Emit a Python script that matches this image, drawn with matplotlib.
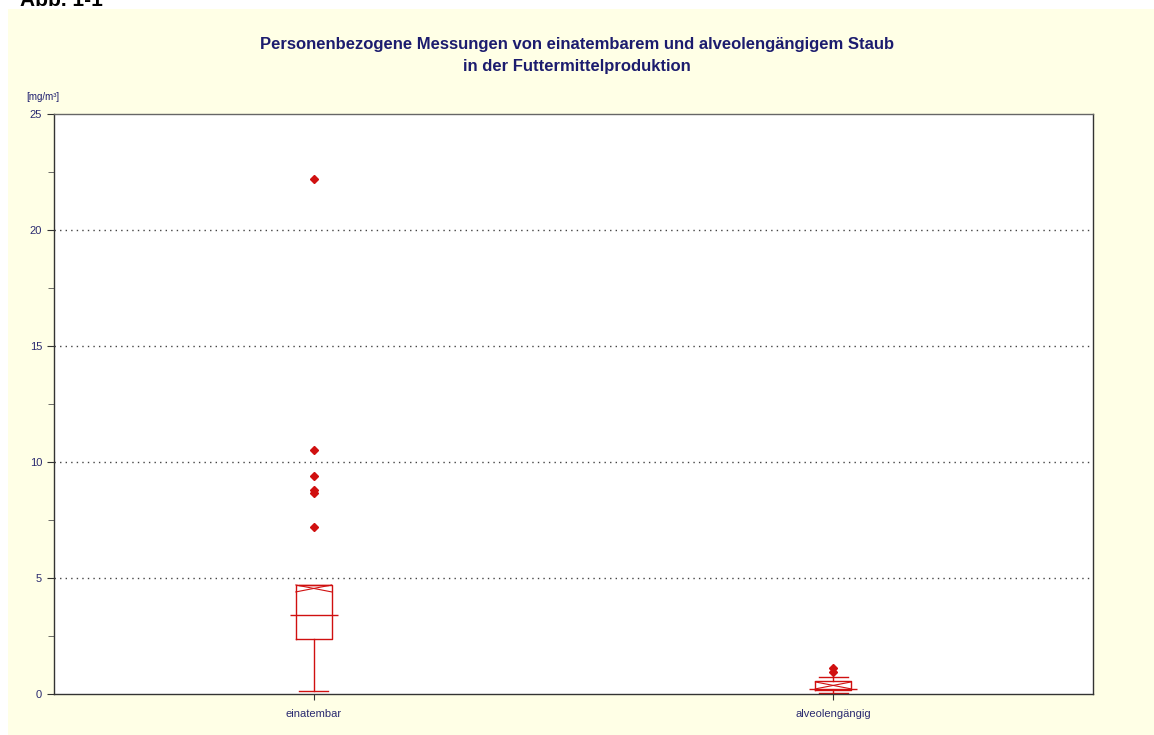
import numpy as np
import matplotlib
matplotlib.use('Agg')
import matplotlib.pyplot as plt
from matplotlib.patches import Rectangle

# werte aus dem bild geschaetzt
kategorien = ['einatembar', 'alveolengängig']
q1 = [2.38, 0.17]
median = [3.42, 0.20]
q3 = [4.71, 0.57]
whisker_lo = [0.13, 0.05]
whisker_hi = [4.71, 0.75]
mittel = [4.55, 0.37]
ausreisser = [[7.2, 8.65, 8.78, 9.4, 10.5, 22.2], [0.95, 1.1]]

navy = '#1c1c6e'
rot = '#d01010'

plt.rcParams['font.family'] = ['Liberation Sans', 'DejaVu Sans']

fig = plt.figure(figsize=(11.54, 7.35), dpi=100, facecolor='white')
# gelber hintergrund
fig.patches.append(Rectangle((8/1154, 0), 1 - 8/1154, 1 - 9/735, transform=fig.transFigure,
                             facecolor='#ffffe6', edgecolor='none', zorder=-10))
fig.text(20/1154, 1 - 6/735, 'Abb. 1-1', fontsize=15, fontweight='bold', color='black',
         va='baseline', ha='left')

ax = fig.add_axes([54/1154, 1 - 694/735, (1093-54)/1154, (694-114)/735])
ax.set_facecolor('white')

pos = np.arange(1, len(kategorien) + 1)
stats = []
for i in range(len(kategorien)):
    stats.append(dict(med=median[i], q1=q1[i], q3=q3[i], whislo=whisker_lo[i],
                      whishi=whisker_hi[i], fliers=ausreisser[i], label=kategorien[i]))

ax.bxp(stats, positions=pos, widths=0.069, capwidths=0.056,
       boxprops=dict(color=rot, linewidth=1),
       whiskerprops=dict(color=rot, linewidth=1),
       capprops=dict(color=rot, linewidth=1),
       medianprops=dict(linestyle='none'),
       flierprops=dict(marker='D', markerfacecolor=rot, markeredgecolor=rot, markersize=4.5))

# median breiter als box
ax.hlines(median, pos - 0.046, pos + 0.046, color=rot, linewidth=1)
# kreuz (mittelwert)
for p, m in zip(pos, mittel):
    ax.plot([p - 0.0345, p + 0.0345], [m + 0.15, m - 0.15], color=rot, linewidth=0.8)
    ax.plot([p - 0.0345, p + 0.0345], [m - 0.15, m + 0.15], color=rot, linewidth=0.8)

ax.set_xlim(0.5, 2.5)
ax.set_ylim(0, 25)
ax.set_yticks([0, 5, 10, 15, 20, 25])
ax.set_yticks([2.5, 7.5, 12.5, 17.5, 22.5], minor=True)
ax.set_xticks(pos)
ax.set_xticklabels(kategorien)
ax.tick_params(axis='both', colors='#333333', labelcolor='#2a2a70', labelsize=8, length=5, width=0.8)
ax.tick_params(axis='y', which='minor', length=4, colors='#555555')
ax.tick_params(axis='x', length=4, pad=7)

for y in [5, 10, 15, 20]:
    ax.axhline(y, color='#444444', linestyle=(0, (1, 3)), linewidth=1, zorder=0)

for s in ax.spines.values():
    s.set_color('#333333')
    s.set_linewidth(1)
ax.spines['top'].set_color('#666666')

fig.text(26/1154, 1 - 97/735, '[mg/m³]', fontsize=7, color=navy, va='center', ha='left')

fig.text(0.5, 1 - 44/735, 'Personenbezogene Messungen von einatembarem und alveolengängigem Staub',
         ha='center', va='center', fontsize=12, fontweight='bold', color=navy)
fig.text(0.5, 1 - 67/735, 'in der Futtermittelproduktion',
         ha='center', va='center', fontsize=12, fontweight='bold', color=navy)

fig.savefig('out.png', dpi=100, facecolor=fig.get_facecolor())
